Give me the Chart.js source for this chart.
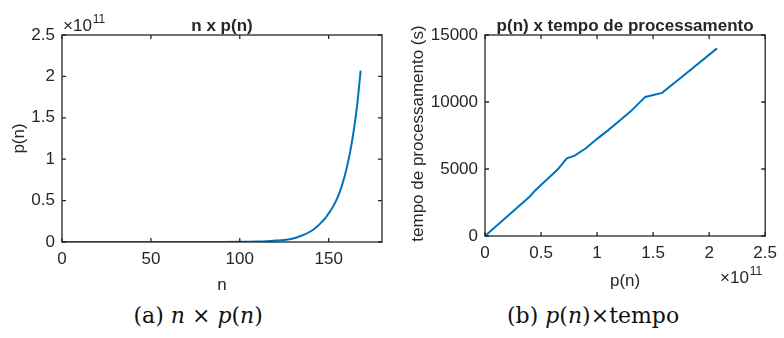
<!DOCTYPE html>
<html>
<head>
<meta charset="utf-8">
<script src="https://cdn.jsdelivr.net/npm/chart.js@4"></script>
<style>
  body { margin: 0; background: #fff; }
  #wrap { position: relative; width: 784px; height: 338px; overflow: hidden; }
  canvas { position: absolute; top: 0; }
  .cap { position: absolute; top: 303px; font-family: "DejaVu Serif", serif; font-size: 22px; color: #111; white-space: nowrap; }
  .cap i { font-style: italic; }
</style>
</head>
<body>
<div id="wrap">
  <canvas id="chartA" width="392" height="300" style="left:0"></canvas>
  <canvas id="chartB" width="392" height="300" style="left:392px"></canvas>
  <div class="cap" id="capA">(a) <i>n</i> × <i>p</i>(<i>n</i>)</div>
  <div class="cap" id="capB">(b) <i>p</i>(<i>n</i>)×tempo</div>
</div>
<script>
// données
const nVals = [0, 10, 20, 30, 40, 50, 60, 70, 80, 90, 100, 105, 110, 115, 120, 125, 130, 135, 140,
  142, 144, 146, 148, 150, 152, 154, 156, 158, 160, 162, 164, 166, 168];
const pnVals = [0, 0, 0, 0, 0, 0, 0, 0.0001e11, 0.0003e11, 0.0008e11, 0.002e11, 0.0035e11, 0.006e11, 0.01e11, 0.017e11,
  0.025e11, 0.042e11, 0.078e11, 0.13e11,
  0.16e11, 0.195e11, 0.24e11, 0.285e11, 0.345e11, 0.41e11, 0.49e11, 0.59e11, 0.72e11, 0.88e11, 1.08e11, 1.33e11, 1.65e11, 2.07e11];

const pVals = [0, 0.2e11, 0.4e11, 0.45e11, 0.55e11, 0.65e11, 0.73e11, 0.8e11, 0.9e11, 1.0e11, 1.1e11, 1.2e11, 1.3e11, 1.43e11, 1.58e11, 1.8e11, 2.07e11];
const tempoVals = [0, 1480, 2950, 3420, 4200, 4980, 5800, 6000, 6550, 7250, 7900, 8600, 9300, 10380, 10680, 12170, 14000];

const nTicks = [0, 50, 100, 150];
const pnTicks = [0, 0.5e11, 1e11, 1.5e11, 2e11, 2.5e11];
const tempoTicks = [0, 5000, 10000, 15000];

const LINE = '#0072BD';
const AXIS = '#262626';
const FONT = 'Liberation Sans, Arial, sans-serif';

// cadre et graduations façon MATLAB
const boxPlugin = {
  id: 'box',
  afterDraw(chart, args, opts) {
    const { ctx, chartArea: a, scales } = chart;
    ctx.save();
    ctx.strokeStyle = AXIS;
    ctx.lineWidth = 1.3;
    ctx.strokeRect(a.left, a.top, a.right - a.left, a.bottom - a.top);
    const tl = 4;
    ctx.beginPath();
    scales.x.ticks.forEach(t => {
      const x = scales.x.getPixelForValue(t.value);
      ctx.moveTo(x, a.bottom); ctx.lineTo(x, a.bottom - tl);
      ctx.moveTo(x, a.top); ctx.lineTo(x, a.top + tl);
    });
    scales.y.ticks.forEach(t => {
      const y = scales.y.getPixelForValue(t.value);
      ctx.moveTo(a.left, y); ctx.lineTo(a.left + tl, y);
      ctx.moveTo(a.right, y); ctx.lineTo(a.right - tl, y);
    });
    ctx.stroke();

    ctx.fillStyle = AXIS;
    // titre
    ctx.font = 'bold 17px ' + FONT;
    ctx.textAlign = 'center';
    ctx.textBaseline = 'alphabetic';
    ctx.fillText(opts.title, (a.left + a.right) / 2, 31);
    // titres des axes
    ctx.font = '17px ' + FONT;
    ctx.fillText(opts.xTitle, (a.left + a.right) / 2, opts.xTitleY);
    ctx.save();
    ctx.translate(opts.yTitleX, (a.top + a.bottom) / 2 + (opts.yTitleShift || 0));
    ctx.rotate(-Math.PI / 2);
    ctx.fillText(opts.yTitle, 0, 0);
    ctx.restore();
    // facteur ×10^11
    if (opts.expo) {
      const [ex, ey] = opts.expo;
      ctx.textAlign = 'left';
      ctx.font = '17px ' + FONT;
      ctx.fillText('×10', ex, ey);
      const w = ctx.measureText('×10').width;
      ctx.font = '12px ' + FONT;
      ctx.fillText('11', ex + w + 1, ey - 8);
    }
    ctx.restore();
  }
};

function makeChart(id, xs, ys, cfg) {
  const ctx = document.getElementById(id).getContext('2d');
  return new Chart(ctx, {
    type: 'line',
    data: {
      datasets: [{
        data: xs.map((x, i) => ({ x: x, y: ys[i] })),
        borderColor: LINE,
        borderWidth: 2,
        pointRadius: 0,
        cubicInterpolationMode: cfg.smooth ? 'monotone' : 'default',
        tension: 0,
        fill: false
      }]
    },
    options: {
      responsive: false,
      animation: false,
      layout: { padding: { left: 0, right: cfg.padRight, top: 35, bottom: 0 } },
      plugins: {
        legend: { display: false },
        tooltip: { enabled: false },
        box: cfg.box
      },
      scales: {
        x: {
          type: 'linear',
          min: cfg.xMin, max: cfg.xMax,
          grid: { display: false, drawTicks: false },
          border: { display: false },
          afterBuildTicks: s => { s.ticks = cfg.xTicks.map(v => ({ value: v })); },
          afterFit: s => { s.height = cfg.xHeight; },
          ticks: {
            padding: 7,
            color: AXIS,
            font: { family: FONT, size: 17 },
            maxRotation: 0,
            callback: cfg.xFmt
          }
        },
        y: {
          type: 'linear',
          min: cfg.yMin, max: cfg.yMax,
          grid: { display: false, drawTicks: false },
          border: { display: false },
          afterBuildTicks: s => { s.ticks = cfg.yTicks.map(v => ({ value: v })); },
          afterFit: s => { s.width = cfg.yWidth; },
          ticks: {
            padding: 7,
            color: AXIS,
            font: { family: FONT, size: 17 },
            callback: cfg.yFmt
          }
        }
      }
    },
    plugins: [boxPlugin]
  });
}

makeChart('chartA', nVals, pnVals, {
  xMin: 0, xMax: 180, yMin: 0, yMax: 2.5e11,
  xTicks: nTicks, yTicks: pnTicks,
  xFmt: v => String(v),
  yFmt: v => String(+(v / 1e11).toFixed(1)),
  padRight: 10, xHeight: 58, yWidth: 62, smooth: true,
  box: { title: 'n x p(n)', xTitle: 'n', xTitleY: 290, yTitle: 'p(n)', yTitleX: 24, expo: [63, 31] }
});

makeChart('chartB', pVals, tempoVals, {
  xMin: 0, xMax: 2.5e11, yMin: 0, yMax: 15000,
  xTicks: pnTicks, yTicks: tempoTicks,
  xFmt: v => String(+(v / 1e11).toFixed(1)),
  yFmt: v => String(v),
  padRight: 14, xHeight: 64, yWidth: 93, smooth: false,
  box: { title: 'p(n) x tempo de processamento', xTitle: 'p(n)', xTitleY: 286, yTitle: 'tempo de processamento (s)', yTitleX: 31, yTitleShift: -2, expo: [328, 283] }
});

// légendes centrées sous chaque figure
const capA = document.getElementById('capA');
const capB = document.getElementById('capB');
capA.style.left = (198 - capA.offsetWidth / 2) + 'px';
capB.style.left = (593 - capB.offsetWidth / 2) + 'px';
</script>
</body>
</html>
